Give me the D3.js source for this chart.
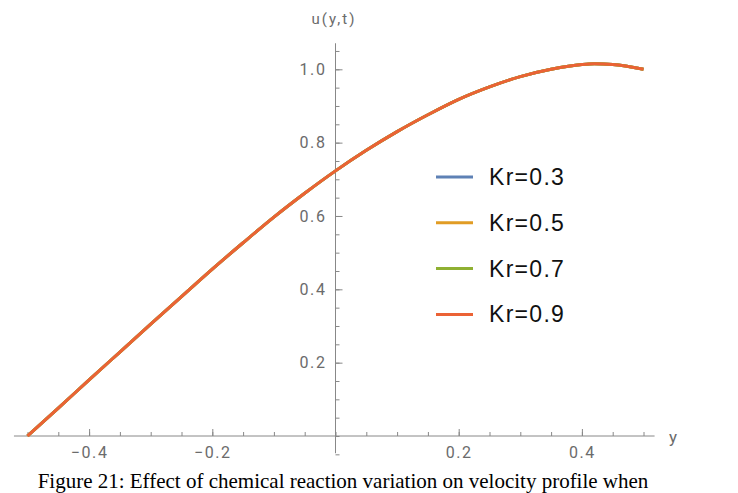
<!DOCTYPE html>
<html>
<head>
<meta charset="utf-8">
<script src="https://cdn.jsdelivr.net/npm/d3@7"></script>
<style>
  body { margin: 0; background: #fff; }
  .tick text { font-family: Roboto, sans-serif; fill: #6b6b6b; letter-spacing: 1.6px; }
</style>
</head>
<body>
<div id="chart"></div>
<script>
// sample points along y
let yValues = [-0.5, -0.45, -0.4, -0.35, -0.3, -0.25, -0.2, -0.15, -0.1, -0.05, 0,
    0.05, 0.1, 0.15, 0.2, 0.25, 0.3, 0.35, 0.4, 0.42, 0.45, 0.5];

// u(y,t) for each Kr (curves overlap in the figure)
let kr03 = [0, 0.076, 0.153, 0.229, 0.305, 0.38, 0.455, 0.527, 0.597, 0.662, 0.723,
    0.779, 0.830, 0.876, 0.918, 0.952, 0.980, 1.000, 1.013, 1.015, 1.013, 1.000];
let kr05 = [0, 0.076, 0.153, 0.229, 0.305, 0.38, 0.455, 0.527, 0.597, 0.662, 0.723,
    0.779, 0.830, 0.876, 0.918, 0.952, 0.980, 1.000, 1.013, 1.015, 1.013, 1.000];
let kr07 = [0, 0.076, 0.153, 0.229, 0.305, 0.38, 0.455, 0.527, 0.597, 0.662, 0.723,
    0.779, 0.830, 0.876, 0.918, 0.952, 0.980, 1.000, 1.013, 1.015, 1.013, 1.000];
let kr09 = [0, 0.076, 0.153, 0.229, 0.305, 0.38, 0.455, 0.527, 0.597, 0.662, 0.723,
    0.779, 0.830, 0.876, 0.918, 0.952, 0.980, 1.000, 1.013, 1.015, 1.013, 1.000];

let seriesLabels = ['Kr=0.3', 'Kr=0.5', 'Kr=0.7', 'Kr=0.9'];
let seriesColors = ['#5e81b5', '#e19c24', '#8fb032', '#eb6235'];

let xTicks = [-0.4, -0.2, 0.2, 0.4];
let yTicks = [0.2, 0.4, 0.6, 0.8, 1.0];

let width = 738, height = 493;

let svg = d3.select('#chart').append('svg')
    .attr('width', width)
    .attr('height', height)

// scales
let x = d3.scaleLinear().domain([-0.5, 0.5]).range([27.5, 643.5]);
let y = d3.scaleLinear().domain([0, 1]).range([436, 69.3]);

let axisColor = '#888';

// x axis
let gx = svg.append('g').attr('transform', 'translate(0,' + y(0) + ')');
gx.append('line')
    .attr('x1', x(-0.522)).attr('x2', x(0.518))
    .attr('stroke', axisColor).attr('stroke-width', 1);
let xMinor = d3.axisBottom(x).tickValues(d3.range(-10, 11).map(d => d / 20))
    .tickSize(-4).tickFormat('');
gx.append('g').call(xMinor);
let xMajor = d3.axisBottom(x).tickValues(xTicks).tickSize(-7).tickPadding(11)
    .tickFormat(d3.format('.1f'));
gx.append('g').call(xMajor);
gx.selectAll('.domain').remove();
gx.selectAll('.tick line').attr('stroke', axisColor);
gx.selectAll('.tick text').attr('font-size', '16px');

// y axis
let gy = svg.append('g').attr('transform', 'translate(' + x(0) + ',0)');
gy.append('line')
    .attr('y1', y(1.071)).attr('y2', y(-0.047))
    .attr('stroke', axisColor).attr('stroke-width', 1);
let yMinor = d3.axisLeft(y).tickValues(d3.range(-1, 22).map(d => d / 20))
    .tickSize(-4).tickFormat('');
gy.append('g').call(yMinor);
let yMajor = d3.axisLeft(y).tickValues(yTicks).tickSize(-7).tickPadding(9)
    .tickFormat(d3.format('.1f'));
gy.append('g').call(yMajor);
gy.selectAll('.domain').remove();
gy.selectAll('.tick line').attr('stroke', axisColor);
gy.selectAll('.tick text').attr('font-size', '16px');

// axis labels
svg.append('text')
    .attr('x', 334).attr('y', 24)
    .attr('text-anchor', 'middle')
    .attr('font-family', 'Roboto, sans-serif')
    .attr('font-size', '15px')
    .attr('letter-spacing', '2px')
    .attr('fill', '#6b6b6b')
    .text('u(y,t)')

svg.append('text')
    .attr('x', 669).attr('y', 443)
    .attr('font-family', 'Roboto, sans-serif')
    .attr('font-size', '17px')
    .attr('fill', '#6b6b6b')
    .text('y')

// curves
let allSeries = [kr03, kr05, kr07, kr09];
let line = d3.line()
    .x((d, i) => x(yValues[i]))
    .y(d => y(d))
    .curve(d3.curveMonotoneX);

allSeries.forEach(function (s, i) {
    svg.append('path')
        .datum(s)
        .attr('d', line)
        .attr('fill', 'none')
        .attr('stroke', seriesColors[i])
        .attr('stroke-width', 3)
});

// legend
let legend = svg.append('g').attr('transform', 'translate(436,177)');
seriesLabels.forEach(function (lab, i) {
    let row = legend.append('g').attr('transform', 'translate(0,' + (i * 45.8) + ')');
    row.append('line')
        .attr('x1', 0).attr('x2', 37)
        .attr('stroke', seriesColors[i])
        .attr('stroke-width', 3)
    row.append('text')
        .attr('x', 53).attr('y', 8)
        .attr('font-family', 'Liberation Sans, Arial, sans-serif')
        .attr('font-size', '23px')
        .attr('letter-spacing', '1.3px')
        .attr('fill', '#111')
        .text(lab)
});

// caption
svg.append('text')
    .attr('x', 343).attr('y', 488)
    .attr('text-anchor', 'middle')
    .attr('font-family', 'Liberation Serif, Times New Roman, serif')
    .attr('font-size', '21px')
    .attr('fill', '#000')
    .text('Figure 21: Effect of chemical reaction variation on velocity profile when')
</script>
</body>
</html>
